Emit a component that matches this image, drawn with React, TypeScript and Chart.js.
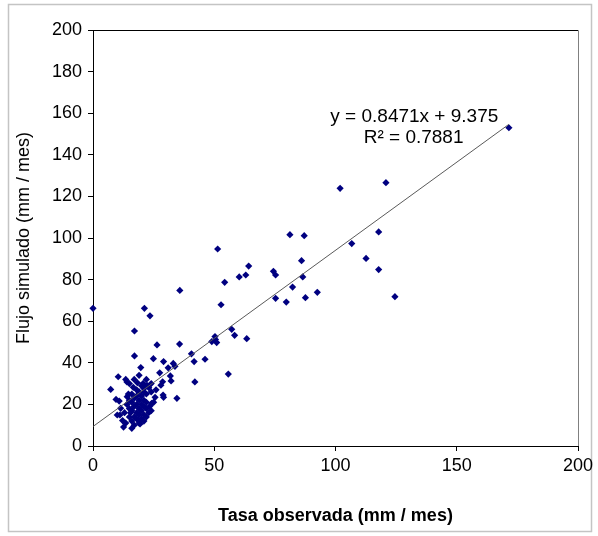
import React, { useEffect, useRef } from "react";
import { Chart, registerables } from "chart.js";

Chart.register(...registerables);

// Observed rate (mm / mes) – x values
const observed: number[] = [
  0, 21.2, 23.5, 17.1, 35.8, 26.4, 35.7, 17.1, 24.9, 29.1,
  19.7, 33.1, 33.8, 31.0, 40.6, 41.7, 27.5, 31.9, 10.4, 13.5,
  14.0, 16.6, 18.3, 20.7, 22.3, 21.0, 28.7, 28.0, 32.2, 7.3,
  9.5, 10.8, 14.1, 14.6, 25.6, 28.9, 29.1, 34.6, 24.2, 23.5,
  11.4, 11.1, 10.0, 12.2, 12.6, 16.0, 19.4, 18.7, 46.2, 42.0,
  55.8, 49.0, 50.3, 51.0, 50.5, 57.2, 58.4, 63.4, 52.8, 54.3,
  51.4, 60.3, 63.0, 64.2, 74.4, 75.3, 75.3, 79.7, 82.3, 81.2,
  87.1, 86.0, 86.5, 87.6, 92.5, 101.9, 120.8, 106.7, 112.6, 117.8,
  117.8, 124.5, 171.5,
  13.0, 14.0, 15.0, 15.0, 15.0, 16.0, 16.0, 16.0, 16.0, 17.0,
  17.0, 17.0, 17.0, 18.0, 18.0, 18.0, 18.0, 18.0, 19.0, 19.0,
  19.0, 19.0, 19.0, 20.0, 20.0, 20.0, 20.0, 21.0, 21.0, 21.0,
  21.0, 21.0, 22.0, 22.0, 22.0, 22.0, 23.0, 23.0, 24.0, 24.0,
  25.0, 26.0, 20.0, 17.0, 15.0, 19.0, 22.0, 24.0, 13.5, 15.5,
];

// Simulated flow (mm / mes) – y values
const simulated: number[] = [
  66.2, 66.2, 62.6, 55.3, 74.8, 48.6, 49.0, 43.3, 42.0, 40.6,
  37.7, 39.7, 38.3, 37.6, 44.3, 40.6, 35.2, 33.7, 33.3, 32.0,
  30.8, 28.2, 30.4, 30.1, 29.2, 27.6, 30.9, 29.2, 31.3, 27.2,
  22.4, 21.6, 23.7, 25.0, 23.4, 24.5, 23.4, 22.9, 20.5, 19.2,
  18.1, 14.9, 14.9, 12.2, 9.1, 8.5, 10.6, 12.5, 41.7, 30.8,
  34.6, 50.2, 52.6, 49.7, 51.2, 56.1, 53.2, 51.6, 67.9, 78.7,
  94.7, 81.3, 82.2, 86.5, 84.0, 82.2, 71.0, 69.2, 76.4, 101.6,
  101.1, 89.1, 81.3, 71.3, 73.9, 123.9, 126.6, 97.3, 90.2, 102.9,
  84.8, 71.8, 153.0,
  16.0, 20.0, 14.0, 18.0, 22.0, 12.0, 17.0, 21.0, 25.0, 10.0,
  14.0, 19.0, 23.0, 13.0, 16.0, 20.0, 24.0, 27.0, 11.0, 15.0,
  18.0, 22.0, 26.0, 13.0, 17.0, 20.0, 24.0, 12.0, 15.0, 19.0,
  22.0, 26.0, 14.0, 18.0, 21.0, 25.0, 16.0, 28.0, 17.0, 26.0,
  21.0, 27.0, 29.0, 32.0, 30.0, 34.0, 32.0, 30.0, 11.0, 16.0,
];

const slope = 0.8471;
const intercept = 9.375;
const equationLabel = "y = 0.8471x + 9.375";
const r2Label = "R\u00b2 = 0.7881";

const xTickValues = [0, 50, 100, 150, 200];
const yTickValues = [0, 20, 40, 60, 80, 100, 120, 140, 160, 180, 200];

const xTitle = "Tasa observada (mm / mes)";
const yTitle = "Flujo simulado (mm / mes)";

const FONT = "'Liberation Sans', Arial, sans-serif";

export default function App() {
  const ref = useRef<HTMLCanvasElement | null>(null);

  useEffect(() => {
    document.body.style.margin = "0";
    const canvas = ref.current;
    if (!canvas) return;

    const points = observed.map((x, i) => ({ x, y: simulated[i] }));
    const minX = Math.min(...observed);
    const maxX = Math.max(...observed);
    const trend = [
      { x: minX, y: slope * minX + intercept },
      { x: maxX, y: slope * maxX + intercept },
    ];

    const decor = {
      id: "decor",
      beforeDraw(chart: any) {
        const ctx = chart.ctx;
        ctx.save();
        ctx.fillStyle = "#ffffff";
        ctx.fillRect(0, 0, chart.width, chart.height);
        ctx.strokeStyle = "#c4c4c4";
        ctx.lineWidth = 1.5;
        ctx.strokeRect(8.5, 4.5, 583, 527);
        ctx.restore();
      },
      afterDraw(chart: any) {
        const ctx = chart.ctx;
        const a = chart.chartArea;
        ctx.save();
        ctx.strokeStyle = "#808080";
        ctx.lineWidth = 1;
        ctx.beginPath();
        ctx.moveTo(a.left, a.top + 0.5);
        ctx.lineTo(a.right + 0.5, a.top + 0.5);
        ctx.lineTo(a.right + 0.5, a.bottom);
        ctx.stroke();
        ctx.strokeStyle = "#000";
        ctx.beginPath();
        ctx.moveTo(a.left, a.top + 0.5);
        ctx.lineTo(a.right, a.top + 0.5);
        ctx.stroke();

        const xs = chart.scales.x;
        const ys = chart.scales.y;
        ctx.fillStyle = "#000";
        ctx.font = `19px ${FONT}`;
        ctx.textAlign = "center";
        ctx.textBaseline = "middle";
        ctx.fillText(equationLabel, xs.getPixelForValue(132.5), ys.getPixelForValue(158.3));
        ctx.fillText(r2Label, xs.getPixelForValue(132.2), ys.getPixelForValue(148.3));
        ctx.restore();
      },
    };

    const chart = new Chart(canvas, {
      type: "scatter",
      data: {
        datasets: [
          {
            label: "data",
            data: points,
            pointStyle: "rectRot",
            pointRadius: 3.6,
            backgroundColor: "#000080",
            borderColor: "#000080",
            borderWidth: 0,
            clip: false,
            order: 2,
          } as any,
          {
            type: "line",
            label: "trend",
            data: trend,
            borderColor: "#5a5a5a",
            borderWidth: 1,
            pointRadius: 0,
            fill: false,
            order: 1,
          } as any,
        ],
      },
      options: {
        responsive: false,
        animation: false,
        layout: { padding: { top: 30, right: 20, bottom: 0, left: 0 } },
        plugins: {
          legend: { display: false },
          tooltip: { enabled: false },
        },
        scales: {
          x: {
            type: "linear",
            min: 0,
            max: 200,
            afterBuildTicks: (s: any) => {
              s.ticks = xTickValues.map((v) => ({ value: v }));
            },
            afterFit: (s: any) => {
              s.height = 90;
            },
            ticks: {
              color: "#000",
              font: { family: FONT, size: 18 },
              padding: 4,
              maxRotation: 0,
            },
            grid: {
              display: true,
              drawOnChartArea: false,
              drawTicks: true,
              tickLength: 5,
              color: "#000",
            },
            border: { display: true, color: "#000", width: 1 },
            title: {
              display: true,
              text: xTitle,
              color: "#000",
              font: { family: FONT, size: 18, weight: "bold" },
              padding: { top: 0, bottom: 9 },
            },
          },
          y: {
            type: "linear",
            min: 0,
            max: 200,
            afterBuildTicks: (s: any) => {
              s.ticks = yTickValues.map((v) => ({ value: v }));
            },
            afterFit: (s: any) => {
              s.width = 93;
            },
            ticks: {
              color: "#000",
              font: { family: FONT, size: 18 },
              padding: 6,
            },
            grid: {
              display: true,
              drawOnChartArea: false,
              drawTicks: true,
              tickLength: 5,
              color: "#000",
            },
            border: { display: true, color: "#000", width: 1 },
            title: {
              display: true,
              text: yTitle,
              color: "#000",
              font: { family: FONT, size: 18 },
              padding: { top: 13, bottom: 0 },
            },
          },
        },
      },
      plugins: [decor],
    });

    return () => chart.destroy();
  }, []);

  return (
    <div style={{ width: 598, height: 536 }}>
      <canvas ref={ref} width={598} height={536} style={{ display: "block", width: 598, height: 536 }} />
    </div>
  );
}
